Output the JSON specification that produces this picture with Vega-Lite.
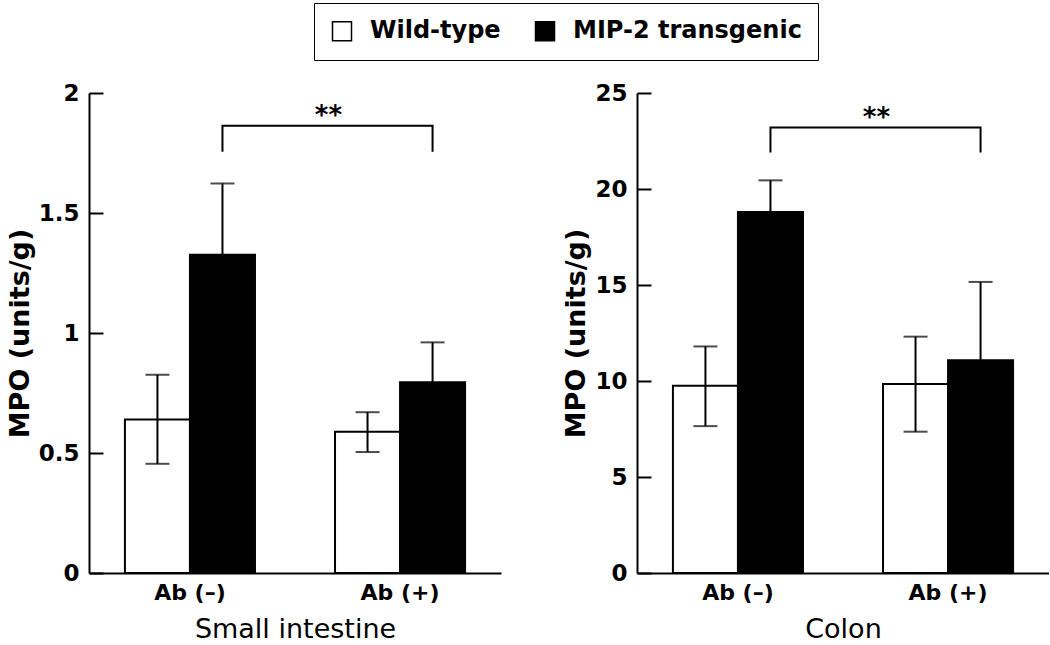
{
  "$schema": "https://vega.github.io/schema/vega-lite/v6.json",
  "background": "white",
  "padding": {"left": 6, "top": 2, "right": 0, "bottom": 0},
  "spacing": 61,
  "config": {
    "view": {"stroke": null},
    "font": "DejaVu Sans",
    "axis": {
      "grid": false,
      "domainColor": "black",
      "domainWidth": 2,
      "tickColor": "black",
      "tickWidth": 2,
      "labelColor": "black",
      "titleColor": "black",
      "labelFont": "DejaVu Sans",
      "titleFont": "DejaVu Sans",
      "labelFontWeight": "bold"
    },
    "axisY": {
      "tickSize": -14,
      "labelFontSize": 23,
      "labelPadding": 24,
      "titleFontSize": 27,
      "titleFontWeight": "bold",
      "titlePadding": 4
    },
    "axisX": {
      "ticks": false,
      "labelFontSize": 22,
      "labelPadding": 9,
      "labelAngle": 0,
      "titleFontSize": 27,
      "titleFontWeight": "normal",
      "titlePadding": 13
    }
  },
  "datasets": {
    "bars": [
      {"panel": "Small intestine", "cat": "Ab (–)", "group": "Wild-type", "value": 0.64, "low": 0.455, "high": 0.826},
      {"panel": "Small intestine", "cat": "Ab (–)", "group": "MIP-2 transgenic", "value": 1.326, "low": 1.03, "high": 1.623},
      {"panel": "Small intestine", "cat": "Ab (+)", "group": "Wild-type", "value": 0.589, "low": 0.504, "high": 0.67},
      {"panel": "Small intestine", "cat": "Ab (+)", "group": "MIP-2 transgenic", "value": 0.795, "low": 0.63, "high": 0.961},
      {"panel": "Colon", "cat": "Ab (–)", "group": "Wild-type", "value": 9.75, "low": 7.65, "high": 11.8},
      {"panel": "Colon", "cat": "Ab (–)", "group": "MIP-2 transgenic", "value": 18.8, "low": 17.15, "high": 20.45},
      {"panel": "Colon", "cat": "Ab (+)", "group": "Wild-type", "value": 9.84, "low": 7.36, "high": 12.31},
      {"panel": "Colon", "cat": "Ab (+)", "group": "MIP-2 transgenic", "value": 11.08, "low": 7.0, "high": 15.16}
    ],
    "brackets": [
      {"panel": "Small intestine", "cat": "Ab (–)", "ord": 1, "by": 1.755},
      {"panel": "Small intestine", "cat": "Ab (–)", "ord": 2, "by": 1.864},
      {"panel": "Small intestine", "cat": "Ab (+)", "ord": 3, "by": 1.864},
      {"panel": "Small intestine", "cat": "Ab (+)", "ord": 4, "by": 1.755},
      {"panel": "Colon", "cat": "Ab (–)", "ord": 1, "by": 21.9},
      {"panel": "Colon", "cat": "Ab (–)", "ord": 2, "by": 23.2},
      {"panel": "Colon", "cat": "Ab (+)", "ord": 3, "by": 23.2},
      {"panel": "Colon", "cat": "Ab (+)", "ord": 4, "by": 21.9}
    ],
    "stars": [
      {"panel": "Small intestine", "cat": "Ab (–)", "label": "**", "sy": 1.864},
      {"panel": "Colon", "cat": "Ab (–)", "label": "**", "sy": 23.2}
    ]
  },
  "hconcat": [
    {
      "width": 412,
      "height": 480,
      "encoding": {
        "x": {"field": "cat", "type": "nominal", "sort": ["Ab (–)", "Ab (+)"], "scale": {"paddingInner": 0.381, "paddingOuter": 0.171}, "axis": {"title": "Small intestine"}},
        "y": {"type": "quantitative", "scale": {"domain": [0, 2], "nice": false}, "axis": {"values": [0, 0.5, 1, 1.5, 2], "format": "~g", "title": "MPO (units/g)"}}
      },
      "layer": [
        {
          "data": {"name": "bars"},
          "transform": [{"filter": "datum.panel == 'Small intestine'"}],
          "mark": {"type": "bar", "stroke": "black", "strokeWidth": 2},
          "encoding": {
            "xOffset": {"field": "group", "type": "nominal", "scale": {"domain": ["Wild-type", "MIP-2 transgenic"], "paddingInner": 0, "paddingOuter": 0}},
            "y": {"field": "value", "type": "quantitative"},
            "color": {"field": "group", "type": "nominal", "scale": {"domain": ["Wild-type", "MIP-2 transgenic"], "range": ["white", "black"]},
              "legend": {"orient": "none", "legendX": 225, "legendY": -90, "direction": "horizontal", "title": null, "strokeColor": "black", "padding": 16, "symbolType": "square", "symbolSize": 361, "symbolStrokeColor": "black", "symbolStrokeWidth": 1.5, "labelFontSize": 24, "labelFont": "DejaVu Sans", "labelFontWeight": "bold", "labelColor": "black", "labelLimit": 500, "columnPadding": 31, "labelOffset": 16}}
          }
        },
        {
          "data": {"name": "bars"},
          "transform": [{"filter": "datum.panel == 'Small intestine'"}],
          "mark": {"type": "rule", "color": "black", "strokeWidth": 2},
          "encoding": {
            "xOffset": {"field": "group", "type": "nominal"},
            "y": {"field": "low", "type": "quantitative"},
            "y2": {"field": "high"}
          }
        },
        {
          "data": {"name": "bars"},
          "transform": [{"filter": "datum.panel == 'Small intestine'"}],
          "mark": {"type": "tick", "orient": "horizontal", "color": "black", "size": 24, "thickness": 2},
          "encoding": {
            "xOffset": {"field": "group", "type": "nominal"},
            "y": {"field": "low", "type": "quantitative"}
          }
        },
        {
          "data": {"name": "bars"},
          "transform": [{"filter": "datum.panel == 'Small intestine'"}],
          "mark": {"type": "tick", "orient": "horizontal", "color": "black", "size": 24, "thickness": 2},
          "encoding": {
            "xOffset": {"field": "group", "type": "nominal"},
            "y": {"field": "high", "type": "quantitative"}
          }
        },
        {
          "data": {"name": "brackets"},
          "transform": [{"filter": "datum.panel == 'Small intestine'"}],
          "mark": {"type": "line", "color": "black", "strokeWidth": 2},
          "encoding": {
            "x": {"field": "cat", "type": "nominal", "sort": ["Ab (–)", "Ab (+)"], "bandPosition": 0.75},
            "y": {"field": "by", "type": "quantitative"},
            "order": {"field": "ord", "type": "quantitative"}
          }
        },
        {
          "data": {"name": "stars"},
          "transform": [{"filter": "datum.panel == 'Small intestine'"}],
          "mark": {"type": "text", "font": "DejaVu Sans", "fontSize": 26, "fontWeight": "bold", "dx": 106, "baseline": "alphabetic", "dy": -2, "color": "black"},
          "encoding": {
            "x": {"field": "cat", "type": "nominal", "sort": ["Ab (–)", "Ab (+)"], "bandPosition": 0.75},
            "y": {"field": "sy", "type": "quantitative"},
            "text": {"field": "label"}
          }
        }
      ]
    },
    {
      "width": 412,
      "height": 480,
      "encoding": {
        "x": {"field": "cat", "type": "nominal", "sort": ["Ab (–)", "Ab (+)"], "scale": {"paddingInner": 0.381, "paddingOuter": 0.171}, "axis": {"title": "Colon"}},
        "y": {"type": "quantitative", "scale": {"domain": [0, 25], "nice": false}, "axis": {"values": [0, 5, 10, 15, 20, 25], "format": "~g", "title": "MPO (units/g)"}}
      },
      "layer": [
        {
          "data": {"name": "bars"},
          "transform": [{"filter": "datum.panel == 'Colon'"}],
          "mark": {"type": "bar", "stroke": "black", "strokeWidth": 2},
          "encoding": {
            "xOffset": {"field": "group", "type": "nominal", "scale": {"domain": ["Wild-type", "MIP-2 transgenic"], "paddingInner": 0, "paddingOuter": 0}},
            "y": {"field": "value", "type": "quantitative"},
            "color": {"field": "group", "type": "nominal", "scale": {"domain": ["Wild-type", "MIP-2 transgenic"], "range": ["white", "black"]}}
          }
        },
        {
          "data": {"name": "bars"},
          "transform": [{"filter": "datum.panel == 'Colon'"}],
          "mark": {"type": "rule", "color": "black", "strokeWidth": 2},
          "encoding": {
            "xOffset": {"field": "group", "type": "nominal"},
            "y": {"field": "low", "type": "quantitative"},
            "y2": {"field": "high"}
          }
        },
        {
          "data": {"name": "bars"},
          "transform": [{"filter": "datum.panel == 'Colon'"}],
          "mark": {"type": "tick", "orient": "horizontal", "color": "black", "size": 24, "thickness": 2},
          "encoding": {
            "xOffset": {"field": "group", "type": "nominal"},
            "y": {"field": "low", "type": "quantitative"}
          }
        },
        {
          "data": {"name": "bars"},
          "transform": [{"filter": "datum.panel == 'Colon'"}],
          "mark": {"type": "tick", "orient": "horizontal", "color": "black", "size": 24, "thickness": 2},
          "encoding": {
            "xOffset": {"field": "group", "type": "nominal"},
            "y": {"field": "high", "type": "quantitative"}
          }
        },
        {
          "data": {"name": "brackets"},
          "transform": [{"filter": "datum.panel == 'Colon'"}],
          "mark": {"type": "line", "color": "black", "strokeWidth": 2},
          "encoding": {
            "x": {"field": "cat", "type": "nominal", "sort": ["Ab (–)", "Ab (+)"], "bandPosition": 0.75},
            "y": {"field": "by", "type": "quantitative"},
            "order": {"field": "ord", "type": "quantitative"}
          }
        },
        {
          "data": {"name": "stars"},
          "transform": [{"filter": "datum.panel == 'Colon'"}],
          "mark": {"type": "text", "font": "DejaVu Sans", "fontSize": 26, "fontWeight": "bold", "dx": 106, "baseline": "alphabetic", "dy": -2, "color": "black"},
          "encoding": {
            "x": {"field": "cat", "type": "nominal", "sort": ["Ab (–)", "Ab (+)"], "bandPosition": 0.75},
            "y": {"field": "sy", "type": "quantitative"},
            "text": {"field": "label"}
          }
        }
      ]
    }
  ]
}
